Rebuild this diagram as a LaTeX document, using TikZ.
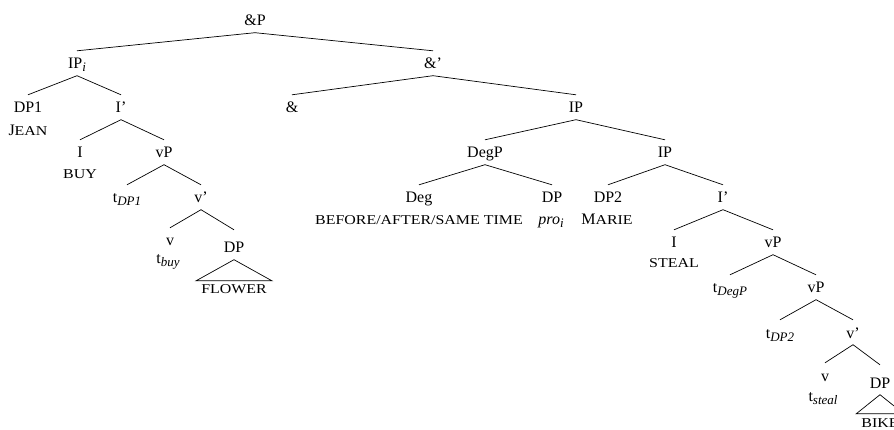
\documentclass[tikz,border=0pt]{standalone}
\usepackage{fontspec}
\setmainfont{Liberation Serif}
\newfontfamily\scf[FakeStretch=1.18]{Liberation Serif}
\newcommand\smc[1]{{\scf\fontsize{13.5}{16}\selectfont #1}}
\newcommand\sub[1]{\raisebox{-3pt}{\fontsize{13}{14}\selectfont\itshape #1}}
\tikzset{
  lab/.style={anchor=base, inner xsep=1pt, inner ysep=6.5pt, text height=11.5pt, text depth=0pt},
  lex/.style={anchor=base, inner sep=1pt},
  roof/.style={lab, text height=16.5pt},
  roofword/.style={anchor=base, inner xsep=5pt, inner ysep=0pt, text height=13pt, text depth=0pt},
  edge/.style={line width=0.7pt, black}
}
\begin{document}
\begin{tikzpicture}[x=1pt, y=-1pt, every node/.style={font=\fontsize{16}{19}\selectfont}]
\useasboundingbox (0,0) rectangle (894,430);
\clip (0,0) rectangle (894,430);
\node[lab] (andP) at (255,26) {\&P};
\node[lab] (ipi) at (77,69) {IP\sub{i}};
\node[lab] (andbar) at (433,69) {\&'};
\node[lab] (dp1) at (28,113) {DP1};
\node[lex] (jean) at (28,136) {J\smc{EAN}};
\node[lab] (ibar1) at (121,113) {I'};
\node[lab] (and) at (292,113) {\&};
\node[lab] (ip1) at (576,113) {IP};
\node[lab] (i1) at (80,158) {I};
\node[lex] (buy) at (80,179) {\smc{BUY}};
\node[lab] (vp1) at (164,158) {vP};
\node[lab] (tdp1) at (127,203) {t\sub{DP1}};
\node[lab] (vbar1) at (201,203) {v'};
\node[lab] (v1) at (170,246) {v};
\node[lex] (tbuy) at (168,264) {t\sub{buy}};
\node[roof] (dpf) at (234,253) {DP};
\node[roofword] (flower) at (234,294) {\smc{FLOWER}};
\node[lab] (degp) at (485,158) {DegP};
\node[lab] (ip2) at (665,158) {IP};
\node[lab] (deg) at (419,203) {Deg};
\node[lex] (baf) at (419,225) {\smc{BEFORE/AFTER/SAME TIME}};
\node[lab] (dppro) at (552,203) {DP};
\node[lex] (pro) at (551,225) {\textit{pro}\sub{i}};
\node[lab] (dp2) at (608,203) {DP2};
\node[lex] (marie) at (607,225) {M\smc{ARIE}};
\node[lab] (ibar2) at (723,203) {I'};
\node[lab] (i2) at (674,248) {I};
\node[lex] (steal) at (674,268) {\smc{STEAL}};
\node[lab] (vp2) at (773,248) {vP};
\node[lab] (tdegp) at (730,293) {t\sub{DegP}};
\node[lab] (vp3) at (816,293) {vP};
\node[lab] (tdp2) at (780,338) {t\sub{DP2}};
\node[lab] (vbar2) at (853,338) {v'};
\node[lab] (v2) at (825,381) {v};
\node[lex] (tsteal) at (823,401) {t\sub{steal}};
\node[roof] (dpb) at (880,388) {DP};
\node[roofword] (bike) at (880,427) {\smc{BIKE}};
\draw[edge] (andP.south) -- (ipi.north);
\draw[edge] (andP.south) -- (andbar.north);
\draw[edge] (ipi.south) -- (dp1.north);
\draw[edge] (ipi.south) -- (ibar1.north);
\draw[edge] (ibar1.south) -- (i1.north);
\draw[edge] (ibar1.south) -- (vp1.north);
\draw[edge] (vp1.south) -- (tdp1.north);
\draw[edge] (vp1.south) -- (vbar1.north);
\draw[edge] (vbar1.south) -- (v1.north);
\draw[edge] (vbar1.south) -- (dpf.north);
\draw[edge] (dpf.south) -- (flower.north west) -- (flower.north east) -- cycle;
\draw[edge] (andbar.south) -- (and.north);
\draw[edge] (andbar.south) -- (ip1.north);
\draw[edge] (ip1.south) -- (degp.north);
\draw[edge] (ip1.south) -- (ip2.north);
\draw[edge] (degp.south) -- (deg.north);
\draw[edge] (degp.south) -- (dppro.north);
\draw[edge] (ip2.south) -- (dp2.north);
\draw[edge] (ip2.south) -- (ibar2.north);
\draw[edge] (ibar2.south) -- (i2.north);
\draw[edge] (ibar2.south) -- (vp2.north);
\draw[edge] (vp2.south) -- (tdegp.north);
\draw[edge] (vp2.south) -- (vp3.north);
\draw[edge] (vp3.south) -- (tdp2.north);
\draw[edge] (vp3.south) -- (vbar2.north);
\draw[edge] (vbar2.south) -- (v2.north);
\draw[edge] (vbar2.south) -- (dpb.north);
\draw[edge] (dpb.south) -- (bike.north west) -- (bike.north east) -- cycle;
\end{tikzpicture}
\end{document}
